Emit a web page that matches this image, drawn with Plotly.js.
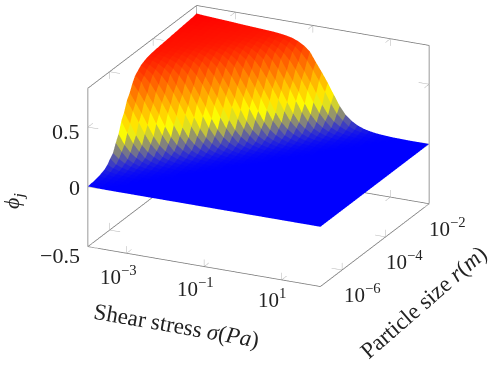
<!DOCTYPE html>
<html>
<head>
<meta charset="utf-8">
<script src="https://cdn.plot.ly/plotly-3.0.1.min.js"></script>
<style>html,body{margin:0;padding:0;background:#fff}</style>
</head>
<body>
<div id="plotArea" style="width:488px;height:369px"></div>
<script>
// log10 ranges of the axes
var sigmaRange = [-4, 2];
var radiusRange = [-7, -2];
var zRange = [-0.5, 0.825];
var samples = 40;

// the surface only depends on log10(r) - log10(sigma), so it is kept as one curve
// first value at -3.5, one value every 0.05, zero below that
var ratioStart = -3.5;
var ratioStep = 0.05;
var phiByRatio = [0, 0, 0.001, 0.001, 0.001, 0.002, 0.002, 0.003, 0.003, 0.004,
    0.004, 0.005, 0.006, 0.007, 0.008, 0.009, 0.011, 0.012, 0.014, 0.016,
    0.019, 0.022, 0.025, 0.029, 0.034, 0.039, 0.046, 0.053, 0.061, 0.071,
    0.082, 0.094, 0.108, 0.124, 0.143, 0.165, 0.19, 0.218, 0.247, 0.277,
    0.308, 0.338, 0.366, 0.393, 0.42, 0.447, 0.473, 0.498, 0.522, 0.545,
    0.566, 0.585, 0.602, 0.618, 0.632, 0.644, 0.655, 0.665, 0.673, 0.68,
    0.686, 0.692, 0.696, 0.7, 0.703, 0.706, 0.708, 0.71, 0.712, 0.714,
    0.716, 0.717, 0.718, 0.719, 0.72, 0.721, 0.722, 0.723, 0.724, 0.725,
    0.726, 0.727, 0.728, 0.729, 0.73, 0.731, 0.732, 0.733, 0.734, 0.735,
    0.736, 0.737, 0.738, 0.739, 0.74, 0.741, 0.742, 0.743, 0.744, 0.745,
    0.746, 0.747, 0.748, 0.749, 0.75, 0.751, 0.752, 0.753, 0.755, 0.756, 0.758];
var phiPeak = 0.758;

var sigmaTicks = [-3, -1, 1];
var radiusTicks = [-6, -4, -2];
var zTicks = [-0.5, 0, 0.5];
var sigmaTickLabels = ["10<sup>−3</sup>", "10<sup>−1</sup>", "10<sup>1</sup>"];
var radiusTickLabels = ["10<sup>−6</sup>", "10<sup>−4</sup>", "10<sup>−2</sup>"];
var zTickLabels = ["−0.5", "0", "0.5"];

function phiAt(d) {
    var n = Math.round((d - ratioStart) / ratioStep);
    if (n < 0) return 0;
    if (n >= phiByRatio.length) return phiPeak;
    return phiByRatio[n];
}

var xs = [], ys = [], zs = [];
for (var b = 0; b < samples; b++) {
    for (var a = 0; a < samples; a++) {
        var lx = sigmaRange[0] + (sigmaRange[1] - sigmaRange[0]) * a / (samples - 1);
        var ly = radiusRange[0] + (radiusRange[1] - radiusRange[0]) * b / (samples - 1);
        xs.push(Math.pow(10, lx));
        ys.push(Math.pow(10, ly));
        zs.push(phiAt(ly - lx));
    }
}

// flat quads, each one is two triangles with the mean of its four corners
var ti = [], tj = [], tk = [], cellColor = [];
for (b = 0; b < samples - 1; b++) {
    for (a = 0; a < samples - 1; a++) {
        var p = b * samples + a;
        var mean = (zs[p] + zs[p + 1] + zs[p + samples] + zs[p + samples + 1]) / 4;
        ti.push(p); tj.push(p + 1); tk.push(p + samples);
        cellColor.push(mean);
        ti.push(p + 1); tj.push(p + samples + 1); tk.push(p + samples);
        cellColor.push(mean);
    }
}

var surface = {
    type: "mesh3d",
    x: xs, y: ys, z: zs,
    i: ti, j: tj, k: tk,
    intensity: cellColor,
    intensitymode: "cell",
    cmin: 0,
    cmax: phiPeak,
    colorscale: [[0, "#0000ff"], [1 / 3, "#ffff00"], [2 / 3, "#ff8000"], [1, "#ff0000"]],
    showscale: false,
    flatshading: true,
    lighting: {ambient: 1, diffuse: 0, specular: 0, roughness: 1, fresnel: 0},
    hoverinfo: "skip"
};

function X(f) { return Math.pow(10, sigmaRange[0] + (sigmaRange[1] - sigmaRange[0]) * f); }
function Y(f) { return Math.pow(10, radiusRange[0] + (radiusRange[1] - radiusRange[0]) * f); }

var x0 = X(0), x1 = X(1), y0 = Y(0), y1 = Y(1), z0 = zRange[0], z1 = zRange[1];

// the box, only the edges the picture has
var bx = [], by = [], bz = [];
function seg(list, p, q) {
    list[0].push(p[0], q[0], null);
    list[1].push(p[1], q[1], null);
    list[2].push(p[2], q[2], null);
}
var box = [bx, by, bz];
seg(box, [x0, y0, z0], [x0, y0, z1]);
seg(box, [x0, y0, z0], [x1, y0, z0]);
seg(box, [x1, y0, z0], [x1, y1, z0]);
seg(box, [x1, y1, z0], [x1, y1, z1]);
seg(box, [x0, y1, z1], [x1, y1, z1]);
seg(box, [x0, y0, z1], [x0, y1, z1]);
seg(box, [x0, y0, z0], [x0, y1, z0]);
seg(box, [x0, y1, z0], [x1, y1, z0]);
seg(box, [x0, y1, z0], [x0, y1, z1]);

// small inward ticks
var tx = [], ty = [], tz = [];
var tick = [tx, ty, tz];
var tl = 0.045;
var zl = (z1 - z0) * tl;
sigmaTicks.forEach(function(v) {
    var x = Math.pow(10, v);
    seg(tick, [x, y0, z0], [x, Y(tl), z0]);
    seg(tick, [x, y0, z0], [x, y0, z0 + zl]);
    seg(tick, [x, y1, z0], [x, Y(1 - tl), z0]);
    seg(tick, [x, y1, z0], [x, y1, z0 + zl]);
    seg(tick, [x, y1, z1], [x, Y(1 - tl), z1]);
    seg(tick, [x, y1, z1], [x, y1, z1 - zl]);
});
radiusTicks.forEach(function(v) {
    var y = Math.pow(10, v);
    seg(tick, [x1, y, z0], [X(1 - tl), y, z0]);
    seg(tick, [x1, y, z0], [x1, y, z0 + zl]);
    seg(tick, [x0, y, z0], [X(tl), y, z0]);
    seg(tick, [x0, y, z0], [x0, y, z0 + zl]);
    seg(tick, [x0, y, z1], [X(tl), y, z1]);
    seg(tick, [x0, y, z1], [x0, y, z1 - zl]);
});
zTicks.forEach(function(v) {
    seg(tick, [x0, y0, v], [X(tl), y0, v]);
    seg(tick, [x0, y0, v], [x0, Y(tl), v]);
    seg(tick, [x1, y1, v], [X(1 - tl), y1, v]);
    seg(tick, [x1, y1, v], [x1, Y(1 - tl), v]);
    seg(tick, [x0, y1, v], [X(tl), y1, v]);
    seg(tick, [x0, y1, v], [x0, Y(1 - tl), v]);
});

var boxTrace = {
    type: "scatter3d", mode: "lines", x: bx, y: by, z: bz,
    line: {color: "#777777", width: 1.5}, hoverinfo: "skip", showlegend: false
};
var tickTrace = {
    type: "scatter3d", mode: "lines", x: tx, y: ty, z: tz,
    line: {color: "#b4b4b4", width: 1}, hoverinfo: "skip", showlegend: false
};

// ranges get a tiny pad, lines lying right on the bound get clipped otherwise
function axisOff(range, type) {
    var pad = (range[1] - range[0]) * 0.002;
    return {visible: false, type: type, range: [range[0] - pad, range[1] + pad], autorange: false, showspikes: false};
}
var xAxis = axisOff(sigmaRange, "log");
var yAxis = axisOff(radiusRange, "log");
var zAxis = axisOff(zRange, "linear");

// text is placed on the page, pixel positions as fractions
function label(text, px, py, size, angle, align) {
    return {
        text: text, xref: "paper", yref: "paper",
        x: px / 488, y: 1 - py / 369,
        xanchor: align || "center", yanchor: "middle",
        showarrow: false, textangle: angle || 0,
        font: {family: "'Liberation Serif', serif", size: size, color: "#222222"}
    };
}
var notes = [];
var sigmaLabelPos = [[118, 275], [195, 287], [272, 298]];
var radiusLabelPos = [[362, 293], [404, 260], [447, 227]];
var zLabelPos = [[82, 255], [82, 187], [82, 132]];
sigmaTickLabels.forEach(function(t, n) { notes.push(label(t, sigmaLabelPos[n][0], sigmaLabelPos[n][1], 21)); });
radiusTickLabels.forEach(function(t, n) { notes.push(label(t, radiusLabelPos[n][0], radiusLabelPos[n][1], 21)); });
zTickLabels.forEach(function(t, n) { notes.push(label(t, zLabelPos[n][0], zLabelPos[n][1], 22, 0, "right")); });
notes.push(label("Shear stress <i>σ</i>(<i>Pa</i>)", 176, 325, 23, 10));
notes.push(label("Particle size <i>r</i>(<i>m</i>)", 423, 302, 23, -41));
notes.push(label("<i>ϕ</i><sub><i>j</i></sub>", 13, 201, 22, -90));

var layout = {
    width: 488,
    height: 369,
    margin: {l: 0, r: 0, t: 0, b: 0},
    paper_bgcolor: "#ffffff",
    showlegend: false,
    annotations: notes,
    scene: {
        domain: {x: [0.06, 1], y: [0.208, 1]},
        xaxis: xAxis,
        yaxis: yAxis,
        zaxis: zAxis,
        aspectmode: "manual",
        aspectratio: {x: 1.77, y: 1.743, z: 1.168},
        camera: {
            projection: {type: "orthographic"},
            up: {x: 0, y: 0, z: 1},
            center: {x: 0, y: 0, z: 0},
            eye: {x: 0.8, y: -1.684, z: 0.723}
        }
    }
};

Plotly.newPlot("plotArea", [surface, boxTrace, tickTrace], layout, {displayModeBar: false});
</script>
</body>
</html>
